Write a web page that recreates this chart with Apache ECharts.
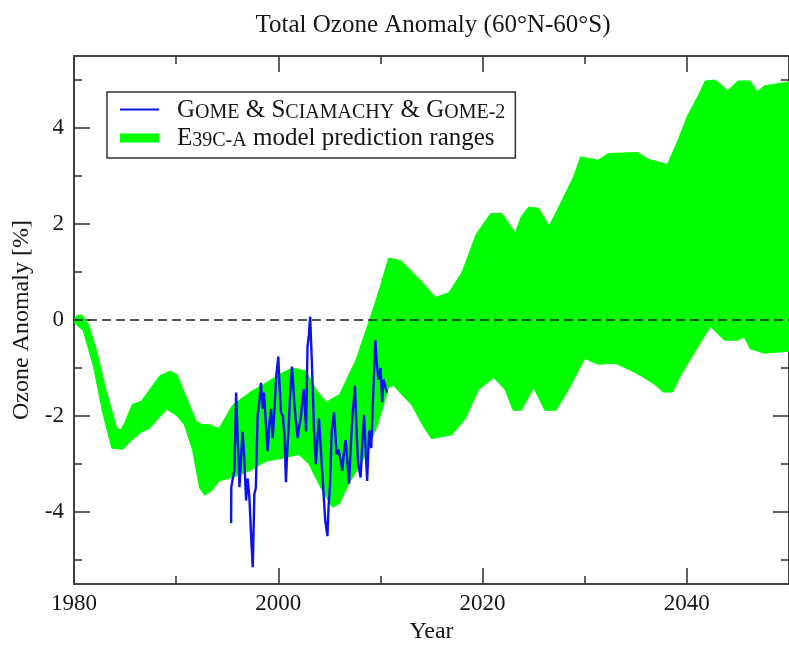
<!DOCTYPE html>
<html>
<head>
<meta charset="utf-8">
<script src="https://cdn.jsdelivr.net/npm/echarts@6/dist/echarts.min.js"></script>
<style>
  html, body { margin: 0; padding: 0; background: #ffffff; overflow: hidden; }
  #chart { width: 789px; height: 649px; }
</style>
</head>
<body>
<div id="chart"></div>
<script>
// Model range envelope (E39C-A): upper and lower edges, anomaly in %
const bandUpperYears = [1980.0, 1980.3, 1980.8, 1981.4, 1982.2, 1983.2, 1984.2, 1984.6, 1985.0, 1985.7,
  1986.6, 1987.4, 1988.4, 1989.4, 1990.1, 1990.8, 1992.0, 1992.6, 1993.3, 1994.2,
  1995.5, 1997.2, 1998.8, 2000.4, 2001.4, 2002.7, 2003.7, 2004.7, 2006.0, 2007.6,
  2008.9, 2009.85, 2010.8, 2012.0, 2014.05, 2015.4, 2016.7, 2018.0, 2019.4, 2020.8,
  2021.9, 2023.2, 2023.8, 2024.5, 2025.5, 2026.5, 2027.1, 2028.9, 2029.6, 2031.3,
  2032.3, 2035.2, 2036.2, 2038.1, 2039.1, 2040.1, 2041.1, 2041.8, 2042.8, 2044.0,
  2045.0, 2046.2, 2046.9, 2047.6, 2050.0];
const bandUpperValues = [0.0, 0.1, 0.1, -0.08, -0.63, -1.51, -2.26, -2.28, -2.12, -1.76,
  -1.69, -1.45, -1.16, -1.06, -1.14, -1.51, -2.12, -2.18, -2.18, -2.26,
  -1.78, -1.51, -1.31, -1.1, -1.0, -1.06, -1.45, -1.71, -1.55, -0.83,
  -0.02, 0.6, 1.29, 1.24, 0.8, 0.47, 0.57, 1.0, 1.8, 2.22,
  2.22, 1.82, 2.16, 2.35, 2.33, 1.96, 2.2, 2.98, 3.4, 3.33,
  3.47, 3.49, 3.35, 3.24, 3.73, 4.27, 4.67, 4.98, 5.0, 4.78,
  4.98, 4.98, 4.76, 4.88, 4.96];
const bandLowerYears = [1980.0, 1980.9, 1981.9, 1982.8, 1983.7, 1984.8, 1985.7, 1986.6, 1987.4, 1988.2,
  1989.1, 1990.0, 1990.8, 1991.6, 1992.3, 1992.8, 1993.5, 1994.2, 1995.5, 1997.2,
  1998.8, 2000.4, 2002.0, 2003.0, 2004.3, 2005.3, 2006.0, 2006.9, 2008.6, 2009.85,
  2010.8, 2011.3, 2013.1, 2014.1, 2015.0, 2017.0, 2018.3, 2019.6, 2021.1, 2022.2,
  2023.0, 2023.8, 2025.0, 2026.1, 2027.2, 2028.4, 2030.0, 2031.3, 2033.0, 2034.5,
  2035.5, 2036.9, 2037.7, 2038.6, 2039.4, 2041.1, 2042.3, 2043.7, 2045.0, 2045.6,
  2046.2, 2047.6, 2050.0];
const bandLowerValues = [-0.05, -0.22, -0.96, -1.92, -2.67, -2.69, -2.49, -2.33, -2.26, -2.06,
  -1.86, -1.98, -2.18, -2.7, -3.5, -3.65, -3.55, -3.35, -3.28, -3.14,
  -2.94, -2.88, -2.8, -3.0, -3.55, -3.9, -3.82, -3.41, -2.8, -2.1,
  -1.4, -1.37, -1.78, -2.18, -2.47, -2.39, -2.06, -1.45, -1.2, -1.45,
  -1.88, -1.88, -1.41, -1.88, -1.88, -1.45, -0.8, -0.92, -0.9, -1.05,
  -1.16, -1.35, -1.5, -1.5, -1.15, -0.55, -0.14, -0.42, -0.42, -0.35,
  -0.6, -0.69, -0.65];

// Satellite record (GOME, SCIAMACHY, GOME-2)
const gomeYears = [1995.38, 1995.40, 1995.55, 1995.70, 1995.87, 1996.03, 1996.12, 1996.20, 1996.35, 1996.50,
  1996.65, 1996.85, 1997.00, 1997.17, 1997.34, 1997.50, 1997.66, 1997.80, 1997.98, 1998.15,
  1998.30, 1998.47, 1998.60, 1998.80, 1998.96, 1999.15, 1999.30, 1999.45, 1999.62, 1999.80,
  2000.00, 2000.13, 2000.26, 2000.45, 2000.60, 2000.75, 2000.88, 2001.00, 2001.15, 2001.33,
  2001.45, 2001.56, 2001.72, 2001.90, 2002.05, 2002.20, 2002.35, 2002.50, 2002.62, 2002.72,
  2002.86, 2003.00, 2003.12, 2003.28, 2003.40, 2003.50, 2003.68, 2003.82, 2003.98, 2004.16,
  2004.28, 2004.40, 2004.59, 2004.81, 2004.92, 2005.05, 2005.23, 2005.46, 2005.60, 2005.70,
  2005.90, 2006.08, 2006.27, 2006.45, 2006.60, 2006.78, 2006.93, 2007.10, 2007.25, 2007.50,
  2007.65, 2007.80, 2008.06, 2008.22, 2008.40, 2008.55, 2008.70, 2008.90, 2009.10, 2009.30,
  2009.50, 2009.65, 2009.80, 2010.00, 2010.17, 2010.30, 2010.50, 2010.66];
const gomeValues = [-4.23, -3.48, -3.3, -3.14, -1.51, -2.53, -2.9, -3.48, -2.9, -2.33,
  -2.8, -3.76, -3.3, -3.69, -4.5, -5.15, -3.62, -3.5, -1.98, -1.7,
  -1.31, -1.85, -1.51, -2.2, -2.73, -2.1, -1.85, -2.46, -1.9, -1.17,
  -0.76, -1.4, -1.92, -2.0, -2.39, -3.38, -2.7, -2.3, -1.6, -0.97,
  -1.3, -1.71, -2.1, -2.46, -2.2, -2.05, -1.7, -1.44, -1.9, -2.32,
  -0.56, -0.3, 0.07, -0.83, -1.6, -2.32, -3.0, -2.5, -2.05, -2.67,
  -3.1, -3.5, -4.16, -4.5, -3.9, -3.48, -2.32, -1.92, -2.4, -2.8,
  -2.7, -2.9, -3.14, -2.7, -2.5, -3.0, -3.41, -2.6, -2.05, -1.37,
  -2.2, -2.95, -3.28, -2.6, -1.98, -2.7, -3.35, -2.3, -2.67, -1.5,
  -0.42, -0.9, -1.24, -1.0, -1.71, -1.24, -1.4, -1.51];

// Reference level and axis ticks
const zeroLine = [[1980, 0], [2050, 0]];
const yearRange = [1980, 2050];
const anomalyRange = [-5.5, 5.5];
const yearTicksMajor = [1980, 2000, 2020, 2040];
const yearTicksMinor = [1990, 2010, 2030];
const anomalyTicksMajor = [-4, -2, 0, 2, 4];
const anomalyTicksMinor = [-5, -3, -1, 1, 3, 5];

const NAME_SAT = 'GOME & SCIAMACHY & GOME-2';
const NAME_MODEL = 'E39C-A model prediction ranges';

const FONT = 'Liberation Serif';
const AXIS_COLOR = '#3a3a3a';
const TEXT_COLOR = '#161616';

function makeAxis(kind, position, ticks, tickLen, withLabels, extra) {
  const range = kind === 'x' ? yearRange : anomalyRange;
  return Object.assign({
    type: 'value',
    position: position,
    min: range[0],
    max: range[1],
    axisLine: { show: true, onZero: false, lineStyle: { color: AXIS_COLOR, width: 1.6 } },
    axisTick: { show: true, inside: true, length: tickLen, customValues: ticks,
      lineStyle: { color: AXIS_COLOR, width: 1.6 } },
    axisLabel: withLabels
      ? { show: true, customValues: ticks, fontFamily: FONT, fontSize: 23, color: TEXT_COLOR,
          margin: kind === 'x' ? 8 : 10,
          formatter: function (v) { return String(v); } }
      : { show: false },
    splitLine: { show: false },
    minorTick: { show: false }
  }, extra || {});
}

const chart = echarts.init(document.getElementById('chart'), null, { renderer: 'canvas', width: 789, height: 649 });

const option = {
  backgroundColor: '#ffffff',
  animation: false,
  graphic: [{
    type: 'text',
    x: 433,
    y: 25,
    style: {
      text: 'Total Ozone Anomaly (60°N-60°S)',
      fontFamily: FONT,
      fontSize: 25,
      fill: TEXT_COLOR,
      align: 'center',
      verticalAlign: 'middle'
    }
  }],
  grid: { left: 74, top: 56, width: 716, height: 538, containLabel: false },
  xAxis: [
    makeAxis('x', 'bottom', yearTicksMajor, 16, true, {
      name: 'Year', nameLocation: 'middle', nameGap: 31,
      nameTextStyle: { fontFamily: FONT, fontSize: 24, color: TEXT_COLOR }
    }),
    makeAxis('x', 'bottom', yearTicksMinor, 8, false),
    makeAxis('x', 'top', yearTicksMajor, 16, false),
    makeAxis('x', 'top', yearTicksMinor, 8, false)
  ],
  yAxis: [
    makeAxis('y', 'left', anomalyTicksMajor, 16, true, {
      name: 'Ozone Anomaly [%]', nameLocation: 'middle', nameGap: 40,
      nameTextStyle: { fontFamily: FONT, fontSize: 24, color: TEXT_COLOR }
    }),
    makeAxis('y', 'left', anomalyTicksMinor, 8, false),
    makeAxis('y', 'right', anomalyTicksMajor, 16, false),
    makeAxis('y', 'right', anomalyTicksMinor, 8, false)
  ],
  legend: {
    left: 107,
    top: 92,
    orient: 'vertical',
    padding: [5, 10, 7, 13],
    itemWidth: 39,
    itemHeight: 9,
    itemGap: 3,
    borderColor: '#333333',
    borderWidth: 1.5,
    borderRadius: 0,
    backgroundColor: '#ffffff',
    selectedMode: false,
    data: [
      { name: NAME_SAT, icon: 'path://M0,0M39,9M0,3.6L39,3.6L39,5.4L0,5.4Z' },
      { name: NAME_MODEL, icon: 'rect' }
    ],
    formatter: function (name) {
      if (name === NAME_SAT) {
        return '{g| }{c|G}{s|OME}{c| & S}{s|CIAMACHY}{c| & G}{s|OME-2}';
      }
      return '{g| }{c|E}{s|39C-A}{c| model prediction ranges}';
    },
    textStyle: {
      fontFamily: FONT,
      fontSize: 25,
      color: TEXT_COLOR,
      rich: {
        g: { width: 13, fontSize: 25, lineHeight: 26 },
        c: { fontFamily: FONT, fontSize: 25, lineHeight: 26, verticalAlign: 'bottom', color: TEXT_COLOR },
        s: { fontFamily: FONT, fontSize: 20, lineHeight: 21, verticalAlign: 'bottom', color: TEXT_COLOR }
      }
    }
  },
  series: [
    {
      name: NAME_MODEL,
      type: 'custom',
      coordinateSystem: 'cartesian2d',
      xAxisIndex: 0,
      yAxisIndex: 0,
      silent: true,
      z: 1,
      clip: true,
      itemStyle: { color: '#00ff00' },
      data: [[bandUpperYears[0], bandUpperValues[0]]],
      renderItem: function (params, api) {
        const pts = [];
        for (let i = 0; i < bandUpperYears.length; i++) {
          pts.push(api.coord([bandUpperYears[i], bandUpperValues[i]]));
        }
        for (let i = bandLowerYears.length - 1; i >= 0; i--) {
          pts.push(api.coord([bandLowerYears[i], bandLowerValues[i]]));
        }
        return {
          type: 'polygon',
          shape: { points: pts },
          style: { fill: '#00ff00', stroke: '#00ff00', lineWidth: 1 }
        };
      }
    },
    {
      name: 'zero',
      type: 'line',
      xAxisIndex: 0,
      yAxisIndex: 0,
      silent: true,
      z: 3,
      symbol: 'none',
      lineStyle: { color: '#1e1e1e', width: 1.5, type: [9, 5] },
      data: zeroLine
    },
    {
      name: NAME_SAT,
      type: 'line',
      xAxisIndex: 0,
      yAxisIndex: 0,
      silent: true,
      z: 4,
      symbol: 'none',
      itemStyle: { color: '#0b12ee' },
      lineStyle: { color: '#0b12ee', width: 2.4 },
      data: gomeYears.map(function (y, i) { return [y, gomeValues[i]]; })
    }
  ]
};

chart.setOption(option);
</script>
</body>
</html>
